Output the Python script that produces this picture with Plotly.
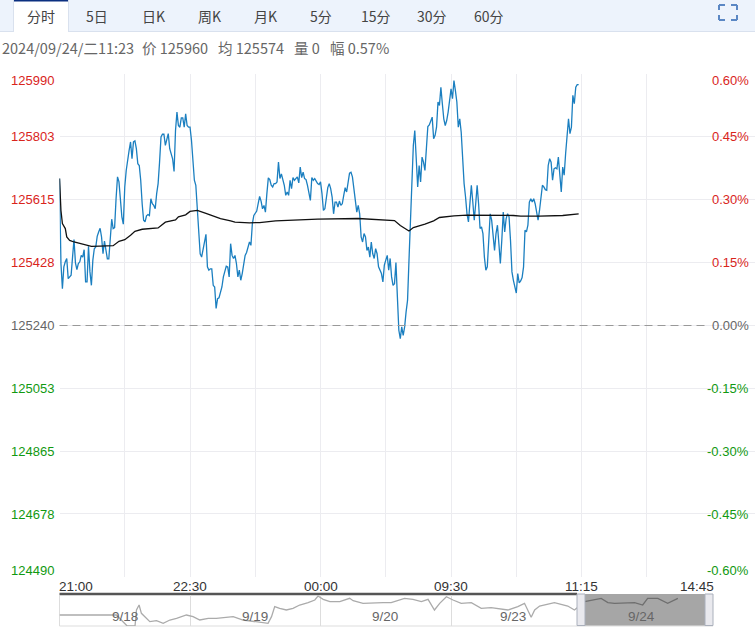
import plotly.graph_objects as go

# Datos del grafico de minutos
price_values = [
    125677,125424,125349,125414,125429,125439,125379,125386,125389,125443,125495,125426,125406,125424,125429,125448,125443,125465,125369,125369,
    125475,125399,125359,125434,125468,125473,125505,125518,125529,125503,125453,125491,125470,125438,125438,125498,125556,125528,125531,125617,
    125682,125667,125602,125563,125541,125652,125701,125736,125761,125786,125736,125786,125789,125766,125721,125716,125672,125602,125553,125548,
    125566,125570,125567,125617,125602,125597,125587,125632,125662,125726,125801,125809,125809,125776,125796,125811,125766,125748,125736,125698,
    125820,125875,125835,125830,125858,125858,125830,125870,125835,125830,125830,125791,125731,125672,125657,125597,125523,125453,125443,125468,
    125498,125511,125414,125404,125408,125408,125359,125354,125290,125319,125322,125339,125354,125384,125404,125416,125414,125384,125483,125448,
    125439,125448,125424,125384,125404,125374,125394,125429,125448,125457,125473,125488,125478,125543,125567,125575,125580,125602,125624,125610,
    125587,125597,125577,125632,125679,125674,125657,125652,125662,125662,125667,125726,125677,125691,125677,125657,125627,125637,125627,125672,
    125647,125680,125672,125677,125682,125664,125711,125680,125696,125677,125674,125657,125632,125612,125680,125672,125677,125667,125662,125659,
    125667,125632,125582,125587,125627,125650,125662,125647,125622,125572,125607,125607,125592,125610,125597,125602,125627,125650,125637,125667,
    125693,125696,125682,125647,125602,125577,125597,125572,125503,125488,125513,125503,125463,125473,125443,125488,125453,125439,125468,125453,
    125414,125404,125394,125369,125419,125434,125448,125404,125439,125384,125359,125364,125427,125324,125225,125200,125235,125210,125235,125280,
    125314,125434,125543,125662,125776,125820,125746,125652,125716,125667,125741,125726,125701,125766,125832,125837,125850,125860,125796,125806,
    125830,125905,125895,125949,125900,125855,125835,125850,125875,125905,125944,125915,125969,125939,125905,125830,125855,125815,125731,125662,
    125622,125572,125548,125617,125657,125607,125553,125602,125657,125602,125528,125533,125513,125443,125404,125414,125503,125572,125553,125493,
    125463,125513,125538,125483,125424,125493,125577,125518,125558,125572,125563,125493,125399,125374,125354,125336,125394,125366,125372,125382,
    125414,125523,125518,125538,125607,125617,125607,125617,125602,125577,125553,125582,125627,125657,125652,125644,125642,125716,125736,125726,
    125672,125706,125709,125706,125741,125682,125637,125711,125687,125751,125796,125855,125811,125830,125925,125900,125949,125957,125957,
]
avg_minutes = [0,1,2,4,5,7,10,14,19,22,28,37,41,45,49,52,57,62,68,73,80,82,87,90,95,101,111,118,121,131,138,149,160,178,206,220,231,235,241,244,252,258,262,272,281,313,318,331,347,358]
avg_values = [125677,125582,125543,125528,125503,125493,125488,125483,125478,125475,125476,125477,125490,125495,125508,125520,125526,125528,125530,125547,125554,125563,125569,125579,125582,125573,125558,125551,125547,125545,125546,125551,125553,125556,125558,125554,125552,125537,125521,125531,125541,125551,125561,125566,125568,125567,125565,125565,125567,125572]

# Navegador inferior
nav_minutes = [0,180,196,233,248,260,265,274,282,300,311,334,357,380,403,437,460,483,512,540,569,598,632,678,701,718,730,741,758,781,804,827,856,879,890,908,931,965,999,1011,1045,1085,1114,1142,1165,1188,1217,1246,1269,1291,1309,1332,1355,1383,1418,1452,1486,1544,1578,1601,1624,1636,1653,1704,1750,1773,1808,1842,1865,1888,1911,1980,2008,2025,2060,2094,2112,2129]
nav_values = [33,33,33,0,0,0,48,63,38,23,13,16,8,18,23,33,28,18,23,23,26,28,18,13,10,8,28,58,53,48,53,63,70,78,90,80,73,73,83,76,68,70,70,70,76,83,80,73,80,48,68,88,78,68,70,53,55,48,58,68,26,48,60,70,60,48,73,80,83,70,68,70,63,83,83,68,76,83]
nav_days = ["9/18", "9/19", "9/20", "9/23", "9/24"]
nav_day_minutes = [225, 672, 1120, 1560, 2004]
nav_grid_minutes = [450, 900, 1350, 1800]

# Ejes
price_ticks = [125990, 125803, 125615, 125428, 125240, 125053, 124865, 124678, 124490]
pct_ticks = ["0.60%", "0.45%", "0.30%", "0.15%", "0.00%", "-0.15%", "-0.30%", "-0.45%", "-0.60%"]
time_ticks = [0, 90, 180, 270, 360, 450]
time_labels = ["21:00", "22:30", "00:00", "09:30", "11:15", "14:45"]
grid_minutes = [45, 90, 135, 180, 225, 270, 315, 360, 405]

tab_labels = ["分时", "5日", "日K", "周K", "月K", "5分", "15分", "30分", "60分"]
tab_centers = [41, 97, 153, 209, 265, 321, 376, 432, 489]
info_texts = ["2024/09/24/二11:23", "价 125960", "均 125574", "量 0", "幅 0.57%"]
info_lefts = [0, 140, 216, 292, 328]

W, H = 755, 630
CJK = "Noto Sans CJK SC"
ARIAL = "Liberation Sans"

def px(x):
    return x / W

def py(y):
    return 1 - y / H

fig = go.Figure()
fig.add_trace(go.Scatter(x=list(range(len(price_values))), y=price_values, mode="lines",
                         line=dict(color="#1b7fc0", width=1.3), xaxis="x", yaxis="y"))
fig.add_trace(go.Scatter(x=avg_minutes, y=avg_values, mode="lines",
                         line=dict(color="#111111", width=1.3), xaxis="x", yaxis="y"))
fig.add_trace(go.Scatter(x=nav_minutes, y=nav_values, mode="lines",
                         line=dict(color="#ababab", width=1.3), xaxis="x2", yaxis="y2"))

shapes = []

def rect(x0, y0, x1, y1, fill, line=None, layer="below"):
    shapes.append(dict(type="rect", xref="paper", yref="paper", x0=px(x0), x1=px(x1), y0=py(y0), y1=py(y1),
                       fillcolor=fill, line=dict(color=line or fill, width=1 if line else 0), layer=layer))

def seg(x0, y0, x1, y1, color, width=1, dash="solid", layer="below"):
    shapes.append(dict(type="line", xref="paper", yref="paper", x0=px(x0), x1=px(x1), y0=py(y0), y1=py(y1),
                       line=dict(color=color, width=width, dash=dash), layer=layer))

# Barra de pestañas
rect(0, 0, 755, 31.5, "#edf3fc")
seg(0, 31.5, 755, 31.5, "#d9e1ee")
rect(14, 0, 68, 32.5, "#ffffff")
seg(14, 0.5, 68, 0.5, "#0b2f80", 2)
seg(13.5, 0, 13.5, 32, "#d9e1ee")
seg(68.5, 0, 68.5, 32, "#d9e1ee")

# Icono pantalla completa
for xa, xb, ya, yb in [(719, 725, 5, 10), (737, 731, 5, 10), (719, 725, 20, 15), (737, 731, 20, 15)]:
    seg(xa, ya, xb, ya, "#5b87c4", 2)
    seg(xa, ya, xa, yb, "#5b87c4", 2)

# Linea de cero (encima de la grilla para que no la tape)
seg(59.5, 325.5, 708, 325.5, "#999999", 1, "8px,5px", layer="above")

# Navegador
seg(59.5, 594, 577, 594, "#555555", 2.5)
seg(59.5, 626, 713, 626, "#dddddd")
seg(59.5, 595, 59.5, 626, "#dddddd")
rect(577, 594, 713, 625.5, "rgba(0,0,0,0.35)", layer="above")
rect(577, 594, 585, 625.5, "#e9e9ee", "#aab0bc", layer="above")
rect(705, 594, 713, 625.5, "#e9e9ee", "#aab0bc", layer="above")

ann = []

def text(x, y, s, color, size=13, family=ARIAL, anchor="center"):
    ann.append(dict(xref="paper", yref="paper", x=px(x), y=py(y), text=s, showarrow=False, xanchor=anchor,
                    yanchor="middle", font=dict(color=color, size=size, family=family)))

for label, cx in zip(tab_labels, tab_centers):
    text(cx, 15.5, label, "#444444", 14, CJK)
for label, left in zip(info_texts, info_lefts):
    text(left, 48, label, "#666666", 14.5, CJK, "left")

for i, (p, pct) in enumerate(zip(price_ticks, pct_ticks)):
    color = "#d9251c" if i < 4 else ("#666666" if i == 4 else "#119911")
    yy = 73.5 + i * 63
    if i == 0:
        yy += 7
    if i == 8:
        yy -= 7
    text(56, yy, str(p), color, 13, anchor="right")
    text(750.5, yy, pct, color, 13, anchor="right")

for t, label in zip(time_ticks, time_labels):
    xx = 59.5 + t * 1.45
    if t == 0:
        text(57, 586.5, label, "#333333", 13.5, anchor="left")
    elif t == 450:
        text(716, 586.5, label, "#333333", 13.5, anchor="right")
    else:
        text(xx, 586.5, label, "#333333", 13.5)

for d, m in zip(nav_days, nav_day_minutes):
    ann.append(dict(xref="x2", yref="y2", x=m, y=30, text=d, showarrow=False,
                    font=dict(color="#666666", size=13.5, family=ARIAL)))

fig.update_layout(
    width=W, height=H, margin=dict(l=0, r=0, t=0, b=0), autosize=False,
    paper_bgcolor="white", plot_bgcolor="white", showlegend=False,
    shapes=shapes, annotations=ann,
    xaxis=dict(domain=[px(59.5), 1], range=[0, 479.6], tickvals=grid_minutes, showticklabels=False,
               showgrid=True, gridcolor="#ececf0", gridwidth=1, zeroline=False, showline=False, ticks=""),
    yaxis=dict(domain=[py(577), py(73.5)], range=[124490, 125990], tickvals=price_ticks, showticklabels=False,
               showgrid=True, gridcolor="#ececf0", gridwidth=1, zeroline=False, showline=False, ticks=""),
    xaxis2=dict(domain=[px(59.5), px(713)], range=[0, 2250], tickvals=nav_grid_minutes, showticklabels=False,
                showgrid=True, gridcolor="#dddddd", zeroline=False, showline=False, ticks="", anchor="y2"),
    yaxis2=dict(domain=[py(626), py(595)], range=[0, 93], showticklabels=False, showgrid=False,
                zeroline=False, showline=False, ticks="", anchor="x2"),
)

# Quita el margen del body para que la figura llene la ventana
fig.write_html("out.html", post_script="document.body.style.margin='0';document.documentElement.style.overflow='hidden';",
               config=dict(displayModeBar=False))
